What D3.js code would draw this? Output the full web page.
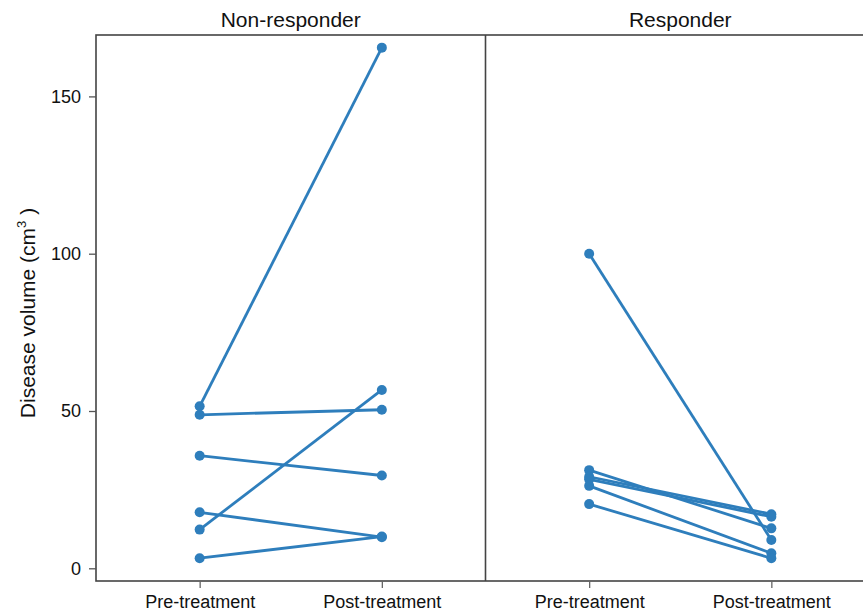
<!DOCTYPE html>
<html>
<head>
<meta charset="utf-8">
<script src="https://cdn.jsdelivr.net/npm/d3@7"></script>
<style>
  html, body { margin: 0; padding: 0; background: #fff; }
  svg { display: block; font-family: "Liberation Sans", Arial, sans-serif; }
</style>
</head>
<body>
<svg id="chart" width="863" height="612"></svg>
<script>
// ---- data ----
const panels = ["Non-responder", "Responder"];
const timepoints = ["Pre-treatment", "Post-treatment"];
const yTicks = [0, 50, 100, 150];
const nonResponderPre  = [51.5, 48.8, 35.8, 17.8, 12.3, 3.2];
const nonResponderPost = [165.5, 50.4, 29.5, 9.9, 56.7, 10.1];
const responderPre  = [100, 31.2, 29.1, 28.3, 26.2, 20.4];
const responderPost = [9.0, 12.7, 17.2, 16.4, 4.8, 3.2];

const seriesByPanel = {
  "Non-responder": nonResponderPre.map((v, i) => [v, nonResponderPost[i]]),
  "Responder": responderPre.map((v, i) => [v, responderPost[i]])
};

// ---- layout ----
const frameLeft = 96, frameRight = 875, frameTop = 35, frameBottom = 581;
const color = "#2e7ebc";
const frameColor = "#444";

const svg = d3.select("#chart");

const y = d3.scaleLinear().domain([0, 150]).range([568.3, 96.4]);
const panelX = d3.scaleBand().domain(panels).range([frameLeft, frameRight]).padding(0);
const x = d3.scalePoint().domain(timepoints).range([0, panelX.bandwidth()]).padding(0.569);

// frame
svg.append("rect")
  .attr("x", frameLeft).attr("y", frameTop)
  .attr("width", frameRight - frameLeft).attr("height", frameBottom - frameTop)
  .attr("fill", "none").attr("stroke", frameColor).attr("stroke-width", 1.6);
svg.append("line")
  .attr("x1", panelX("Responder")).attr("x2", panelX("Responder"))
  .attr("y1", frameTop).attr("y2", frameBottom)
  .attr("stroke", frameColor).attr("stroke-width", 1.6);

// y axis
const yAxis = svg.append("g")
  .attr("transform", `translate(${frameLeft},0)`)
  .call(d3.axisLeft(y).tickValues(yTicks).tickSize(7).tickPadding(8));
yAxis.select(".domain").remove();
yAxis.selectAll(".tick line").attr("stroke", "#555").attr("stroke-width", 1.3);
yAxis.selectAll(".tick text").attr("font-size", 18).attr("fill", "#111")
  .attr("font-family", "Liberation Sans, Arial, sans-serif");

// y title
const yt = svg.append("text")
  .attr("transform", "translate(35,313) rotate(-90)")
  .attr("text-anchor", "middle")
  .attr("font-size", 21)
  .attr("fill", "#111");
yt.append("tspan").text("Disease volume (cm");
yt.append("tspan").attr("dy", -9).attr("font-size", 13).text("3");
yt.append("tspan").attr("dy", 9).text(" )");

// panels
panels.forEach(p => {
  const g = svg.append("g").attr("transform", `translate(${panelX(p)},0)`);

  // title
  g.append("text")
    .attr("x", panelX.bandwidth() / 2).attr("y", 27)
    .attr("text-anchor", "middle")
    .attr("font-size", 21).attr("fill", "#111")
    .text(p);

  // x axis
  const xa = g.append("g")
    .attr("transform", `translate(0,${frameBottom})`)
    .call(d3.axisBottom(x).tickSize(7).tickPadding(7));
  xa.select(".domain").remove();
  xa.selectAll(".tick line").attr("stroke", "#666").attr("stroke-width", 1.3);
  xa.selectAll(".tick text").attr("font-size", 18).attr("fill", "#111")
    .attr("font-family", "Liberation Sans, Arial, sans-serif");

  const data = seriesByPanel[p];
  const line = d3.line().x((d, i) => x(timepoints[i])).y(d => y(d));

  g.selectAll("path.subject")
    .data(data).enter().append("path")
    .attr("class", "subject")
    .attr("d", d => line(d))
    .attr("fill", "none")
    .attr("stroke", color)
    .attr("stroke-width", 2.8);

  const pts = [];
  data.forEach(d => d.forEach((v, i) => pts.push({t: timepoints[i], v})));
  g.selectAll("circle")
    .data(pts).enter().append("circle")
    .attr("cx", d => x(d.t))
    .attr("cy", d => y(d.v))
    .attr("r", 5)
    .attr("fill", color);
});
</script>
</body>
</html>
